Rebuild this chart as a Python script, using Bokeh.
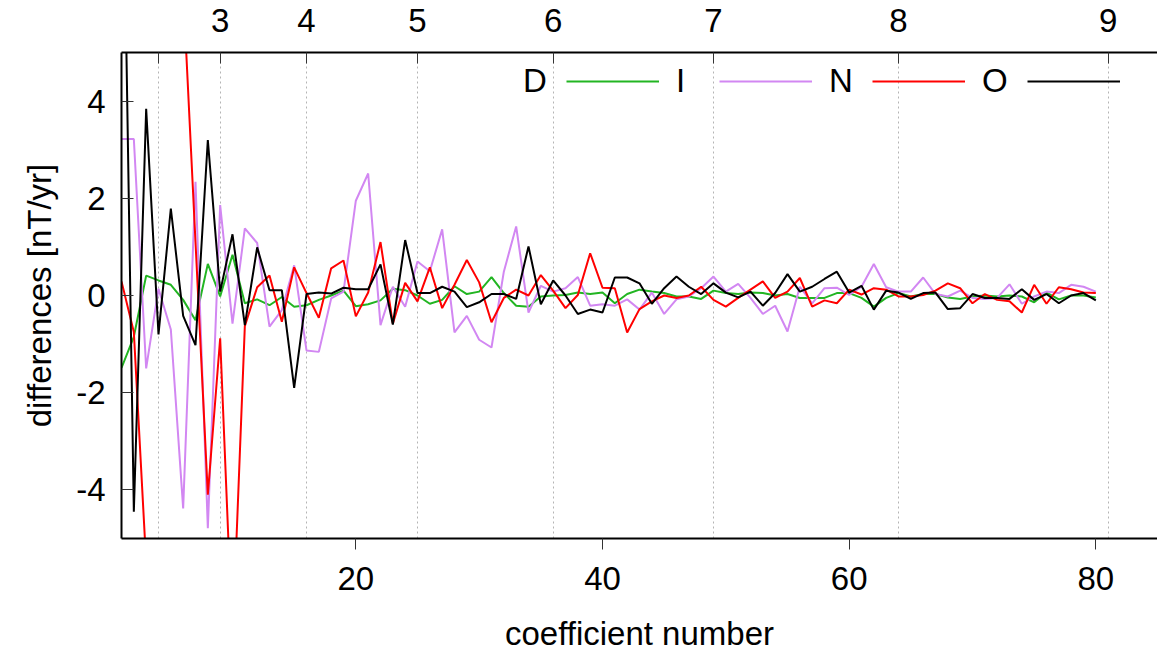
import math
from bokeh.plotting import figure
from bokeh.models import (LinearAxis, FixedTicker, Grid, Legend, LegendItem, Range1d,
                          ColumnDataSource)
from bokeh.embed import file_html
from bokeh.resources import INLINE

# ---------------- data ----------------
coef = list(range(1, 81))

D = [-1.49, -0.85, 0.41, 0.31, 0.22, -0.09, -0.51, 0.65, -0.02, 0.84,
     -0.16, -0.08, -0.20, -0.03, -0.23, -0.20, -0.09, 0.00, 0.10, -0.22,
     -0.18, -0.10, 0.14, 0.11, 0.00, -0.17, -0.09, 0.19, 0.03, 0.08,
     0.38, 0.05, -0.21, -0.23, -0.02, 0.00, 0.01, 0.06, 0.03, 0.06,
     -0.16, 0.03, 0.12, 0.08, 0.05, -0.02, -0.02, -0.07, 0.10, 0.05,
     0.03, 0.06, 0.05, 0.00, 0.03, -0.05, -0.05, -0.05, 0.05, 0.05,
     -0.05, -0.23, -0.05, 0.05, -0.02, 0.03, 0.03, -0.04, -0.07, -0.02,
     0.00, -0.02, 0.00, -0.02, -0.14, 0.06, -0.08, 0.00, 0.00, -0.04]

I = [3.22, 3.22, -1.50, 0.14, -0.70, -4.38, 2.34, -4.79, 1.86, -0.58,
     1.38, 1.08, -0.64, -0.30, 0.62, -1.13, -1.16, -0.06, 0.08, 1.95,
     2.51, -0.61, 0.18, -0.23, 0.70, 0.50, 1.36, -0.76, -0.42, -0.91,
     -1.07, 0.49, 1.42, -0.35, 0.20, 0.08, 0.15, 0.38, -0.21, -0.18,
     -0.21, -0.08, -0.29, 0.06, -0.38, -0.08, -0.02, 0.15, 0.39, 0.08,
     0.24, -0.05, -0.38, -0.21, -0.74, 0.18, -0.16, 0.15, 0.16, 0.01,
     0.18, 0.65, 0.17, 0.08, 0.08, 0.37, 0.03, -0.02, 0.10, -0.05,
     -0.07, -0.05, 0.23, -0.17, -0.02, 0.08, 0.05, 0.22, 0.18, 0.08]

N = [0.29, -0.75, -5.5, -9.0, 8.0, 6.3, 1.10, -4.10, -0.88, -7.10,
     -0.63, 0.17, 0.41, -0.54, 0.58, 0.05, -0.46, 0.56, 0.72, -0.43,
     0.06, 1.10, -0.58, 0.26, -0.12, 0.58, -0.26, 0.22, 0.73, 0.27,
     -0.55, -0.05, 0.12, 0.00, 0.42, 0.10, -0.26, 0.01, 0.87, 0.16,
     0.15, -0.76, -0.28, -0.12, 0.00, -0.05, 0.00, 0.18, -0.09, -0.23,
     -0.05, 0.12, 0.29, -0.05, 0.08, 0.36, -0.23, -0.10, -0.16, 0.12,
     0.02, 0.15, 0.12, -0.02, -0.02, 0.01, 0.10, 0.25, 0.15, -0.16,
     0.03, -0.09, -0.12, -0.35, 0.22, -0.17, 0.17, 0.13, 0.06, 0.05]

O = [11.3, -4.45, 3.84, -0.80, 1.79, -0.42, -1.02, 3.20, 0.08, 1.26,
     -0.61, 0.99, 0.11, 0.11, -1.90, 0.03, 0.06, 0.04, 0.16, 0.13,
     0.13, 0.64, -0.60, 1.14, 0.05, 0.05, 0.18, 0.08, -0.24, -0.14,
     0.03, 0.03, -0.07, 1.01, -0.18, 0.31, 0.00, -0.38, -0.29, -0.35,
     0.37, 0.37, 0.25, -0.17, 0.15, 0.39, 0.18, 0.03, 0.25, 0.06,
     -0.04, 0.08, -0.21, 0.05, 0.44, 0.08, 0.18, 0.34, 0.49, 0.06,
     0.20, -0.29, 0.10, 0.06, -0.07, 0.05, 0.06, -0.28, -0.26, 0.03,
     -0.05, -0.05, -0.07, 0.13, -0.09, 0.03, -0.16, 0.00, 0.05, -0.10]

series_names = ["D", "I", "N", "O"]
series_colors = ["#22b522", "#d287f2", "#ff0000", "#000000"]

x_ticks = [20, 40, 60, 80]
y_ticks = [-4, -2, 0, 2, 4]
y_tick_labels = ["-4", "-2", "0", "2", "4"]
degree_ticks = [9, 16, 25, 36, 49, 64, 81]
degree_labels = ["3", "4", "5", "6", "7", "8", "9"]
degree_unlabelled = [4]

Y_MIN, Y_MAX = -5, 5
FONT = "Liberation Sans"
FS = "33px"


def clip_two(xs, ys, lo, hi):
    """gnuplot default clipping: a segment whose two ends are both outside the
    y range is not drawn (break the line there)."""
    ox, oy = [], []
    for k, (x, y) in enumerate(zip(xs, ys)):
        if k > 0:
            prev = ys[k - 1]
            if not (lo <= prev <= hi) and not (lo <= y <= hi):
                ox.append(float("nan"))
                oy.append(float("nan"))
        ox.append(x)
        oy.append(y)
    return ox, oy


p = figure(width=1157, height=656,
           x_range=Range1d(1, 85), y_range=Range1d(Y_MIN, Y_MAX),
           output_backend="svg", toolbar_location=None,
           min_border_left=121, min_border_right=0,
           min_border_top=52, min_border_bottom=118)

p.outline_line_color = None
p.xgrid.visible = False
p.ygrid.visible = False
p.background_fill_color = "white"
p.border_fill_color = "white"

# bottom axis
xa = p.xaxis[0]
xa.ticker = FixedTicker(ticks=x_ticks)
xa.major_tick_out = 11
xa.major_tick_in = 0
xa.minor_tick_line_color = None
xa.major_tick_line_color = "#333333"
xa.axis_line_width = 2
xa.axis_line_color = "black"
xa.major_label_text_font = FONT
xa.major_label_text_font_size = FS
xa.major_label_text_color = "black"
xa.major_label_standoff = 17
xa.axis_label = "coefficient number"
xa.axis_label_text_font = FONT
xa.axis_label_text_font_size = FS
xa.axis_label_text_font_style = "normal"
xa.axis_label_text_color = "black"
xa.axis_label_standoff = 22

# left axis
ya = p.yaxis[0]
ya.ticker = FixedTicker(ticks=y_ticks)
ya.major_label_overrides = {t: l for t, l in zip(y_ticks, y_tick_labels)}
ya.major_tick_in = 12
ya.major_tick_out = 0
ya.minor_tick_line_color = None
ya.major_tick_line_color = "#333333"
ya.axis_line_width = 2
ya.axis_line_color = "black"
ya.major_label_text_font = FONT
ya.major_label_text_font_size = FS
ya.major_label_text_color = "black"
ya.major_label_standoff = 16
ya.axis_label = "differences [nT/yr]"
ya.axis_label_text_font = FONT
ya.axis_label_text_font_size = FS
ya.axis_label_text_font_style = "normal"
ya.axis_label_text_color = "black"
ya.axis_label_standoff = 15

# top axis: spherical harmonic degree at n^2
top = LinearAxis(ticker=FixedTicker(ticks=degree_ticks, minor_ticks=degree_unlabelled),
                 major_label_overrides={t: l for t, l in zip(degree_ticks, degree_labels)})
top.major_tick_in = 11
top.major_tick_out = 0
top.minor_tick_in = 11
top.minor_tick_out = 0
top.minor_tick_line_color = "#333333"
top.major_tick_line_color = "#333333"
top.axis_line_width = 2
top.axis_line_color = "black"
top.major_label_text_font = FONT
top.major_label_text_font_size = FS
top.major_label_text_color = "black"
top.major_label_standoff = 21
p.add_layout(top, "above")

# dotted vertical grid at degree boundaries
p.add_layout(Grid(dimension=0,
                  ticker=FixedTicker(ticks=degree_unlabelled + degree_ticks),
                  grid_line_color="#b4b4b4", grid_line_dash="2 3",
                  grid_line_width=1))

renderers = []
for name, vals, col in zip(series_names, [D, I, N, O], series_colors):
    xs, ys = clip_two(coef, vals, Y_MIN, Y_MAX)
    src = ColumnDataSource(dict(x=xs, y=ys))
    r = p.line("x", "y", source=src, line_color=col, line_width=2)
    renderers.append(r)

# gnuplot-style key: label first, then the sample line
items = [LegendItem(label=series_names[0], renderers=[])]
for k in range(len(series_names)):
    nxt = series_names[k + 1] if k + 1 < len(series_names) else ""
    items.append(LegendItem(label=nxt, renderers=[renderers[k]]))

legend = Legend(items=items, orientation="horizontal", location=(292, 438),
                glyph_width=93, glyph_height=20, label_standoff=17, spacing=19,
                label_width=24, padding=0, margin=0,
                border_line_color=None, background_fill_alpha=0,
                label_text_font=FONT, label_text_font_size=FS,
                label_text_color="black")
p.add_layout(legend, "center")

open("out.html", "w").write(file_html(p, INLINE))
